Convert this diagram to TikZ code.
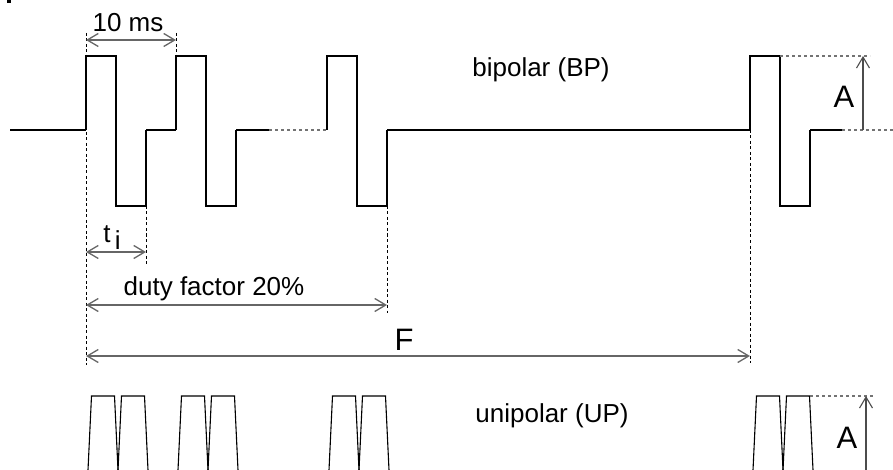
\documentclass[tikz,border=0pt]{standalone}
\usepackage{fontspec}
\setmainfont{Liberation Sans}
\usetikzlibrary{arrows.meta}

\begin{document}
\begin{tikzpicture}[x=1pt,y=-1pt,
  wave/.style={line width=1.1pt},
  guide/.style={line width=0.8pt,dash pattern=on 3pt off 2.5pt},
  dots/.style={line width=1.1pt,black!55,dash pattern=on 3pt off 3pt},
  dimline/.style={line width=1.3pt,black!60,{Straight Barb[length=11pt,width=13pt]}-{Straight Barb[length=11pt,width=13pt]}},
  ampline/.style={line width=1.1pt,black!70,-{Straight Barb[length=11pt,width=13pt]}},
  lbl/.style={inner sep=0pt,anchor=base,font=\fontsize{26}{30}\selectfont},
  biglbl/.style={inner sep=0pt,anchor=base,font=\fontsize{31}{36}\selectfont}]
\useasboundingbox (0,0) rectangle (893,470);
\fill (7,0) rectangle (11,3);

% bipolar (BP)
\foreach \p in {86,176,327,750}
  \draw[wave] (\p,130) -- (\p,56) -- (\p+30,56) -- (\p+30,206) -- (\p+60,206) -- (\p+60,130);
\draw[wave] (10,130) -- (86,130);
\draw[wave] (146,130) -- (176,130);
\draw[wave] (236,130) -- (269,130);
\draw[wave] (387,130) -- (750,130);
\draw[wave] (810,130) -- (842,130);
\draw[dots] (269,130) -- (327,130);
\draw[dots] (842,130) -- (893,130);
\draw[dots] (780,56) -- (870,56);

% unipolar (UP)
\foreach \u in {88,118,178,208,329,359,753,783}
  \draw[wave] (\u,470) -- (\u+3.5,396) -- (\u+26.5,396) -- (\u+30,470);
\draw[dots] (810,396) -- (873,396);

% guides
\draw[guide] (86,33) -- (86,365);
\draw[guide] (176,33) -- (176,56);
\draw[guide] (146,206) -- (146,265);
\draw[guide] (387,206) -- (387,313);
\draw[guide] (750,130) -- (750,363);

\coordinate (tenA) at (86,40);   \coordinate (tenB) at (176,40);
\coordinate (tiA) at (86,252);   \coordinate (tiB) at (146,252);
\coordinate (dfA) at (86,305);   \coordinate (dfB) at (387,305);
\coordinate (fA) at (86,356);    \coordinate (fB) at (750,356);
\coordinate (bpA0) at (863,130); \coordinate (bpA1) at (863,56);
\coordinate (upA0) at (866,470); \coordinate (upA1) at (866,396);

\draw[dimline] (tenA) -- (tenB);
\draw[dimline] (tiA) -- (tiB);
\draw[dimline] (dfA) -- (dfB);
\draw[dimline] (fA) -- (fB);
\draw[ampline] (bpA0) -- (bpA1);
\draw[ampline] (upA0) -- (upA1);

\node[lbl] (ten) at (128,32) {10 ms};
\node[lbl] (bp) at (541,77) {bipolar (BP)};
\node[lbl] (ti) at (112,243) {t\,\raisebox{-6pt}{i}};
\node[lbl] (df) at (214,295) {duty factor 20\%};
\node[biglbl] (f) at (404,350) {F};
\node[biglbl] (abp) at (844,108) {A};
\node[lbl] (up) at (552,422) {unipolar (UP)};
\node[biglbl] (aup) at (847,448) {A};
\end{tikzpicture}
\end{document}
